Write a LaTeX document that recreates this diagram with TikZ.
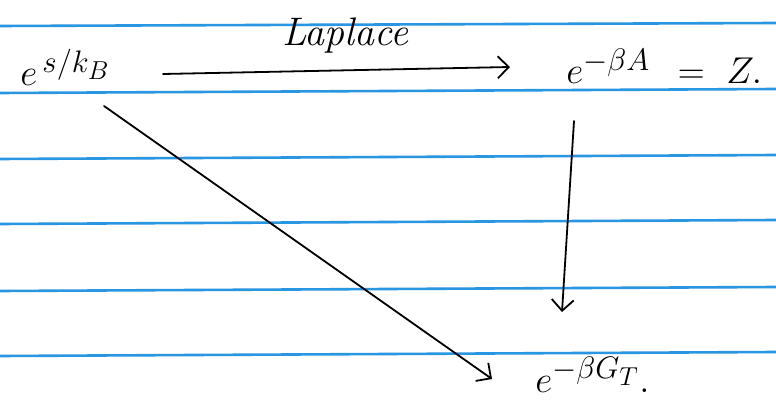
\documentclass[tikz,border=0pt]{standalone}
\usetikzlibrary{arrows.meta}
\definecolor{rule}{RGB}{40,150,225}
\begin{document}
\begin{tikzpicture}[x=1pt,y=-1pt,
  ruleline/.style={rule,line width=2.6pt},
  pen/.style={black,line width=1.8pt,line cap=round},
  arr/.style={pen,-{Straight Barb[length=11pt,width=22pt,line width=1.8pt]}},
  expr/.style={inner sep=0pt,font=\Huge,scale=1.5,transform shape},
  lbl/.style={inner sep=0pt,font=\Huge\itshape,scale=1.6,transform shape}]
\useasboundingbox (0,0) rectangle (776,403);
\fill[white] (0,0) rectangle (776,403);
% ruled paper
\draw[ruleline] (0,26) -- (776,23);
\draw[ruleline] (0,93) -- (776,89);
\draw[ruleline] (0,159) -- (776,155);
\draw[ruleline] (0,224) -- (776,220);
\draw[ruleline] (0,291) -- (776,287);
\draw[ruleline] (0,356) -- (776,352);
% expressions
\node[expr,anchor=base west] (src) at (20,86) {$e^{\,s/k_B}$};
\node[expr,anchor=base west] (tgt) at (566,84) {$e^{-\beta A}\ \,=\ Z.$};
\node[expr,anchor=base west] (bot) at (535,392) {$e^{-\beta G_T}.$};
\node[lbl] (lap) at (345,36) {Laplace};
% arrow endpoints
\coordinate (h1) at (163,74);
\coordinate (h2) at (510,67);
\coordinate (v1) at (574,121);
\coordinate (v2) at (562,312);
\coordinate (d1) at (104,106);
\coordinate (d2) at (492,379);
\draw[arr] (h1) -- (h2);
\draw[arr] (v1) -- (v2);
\draw[arr] (d1) -- (d2);
\end{tikzpicture}
\end{document}
